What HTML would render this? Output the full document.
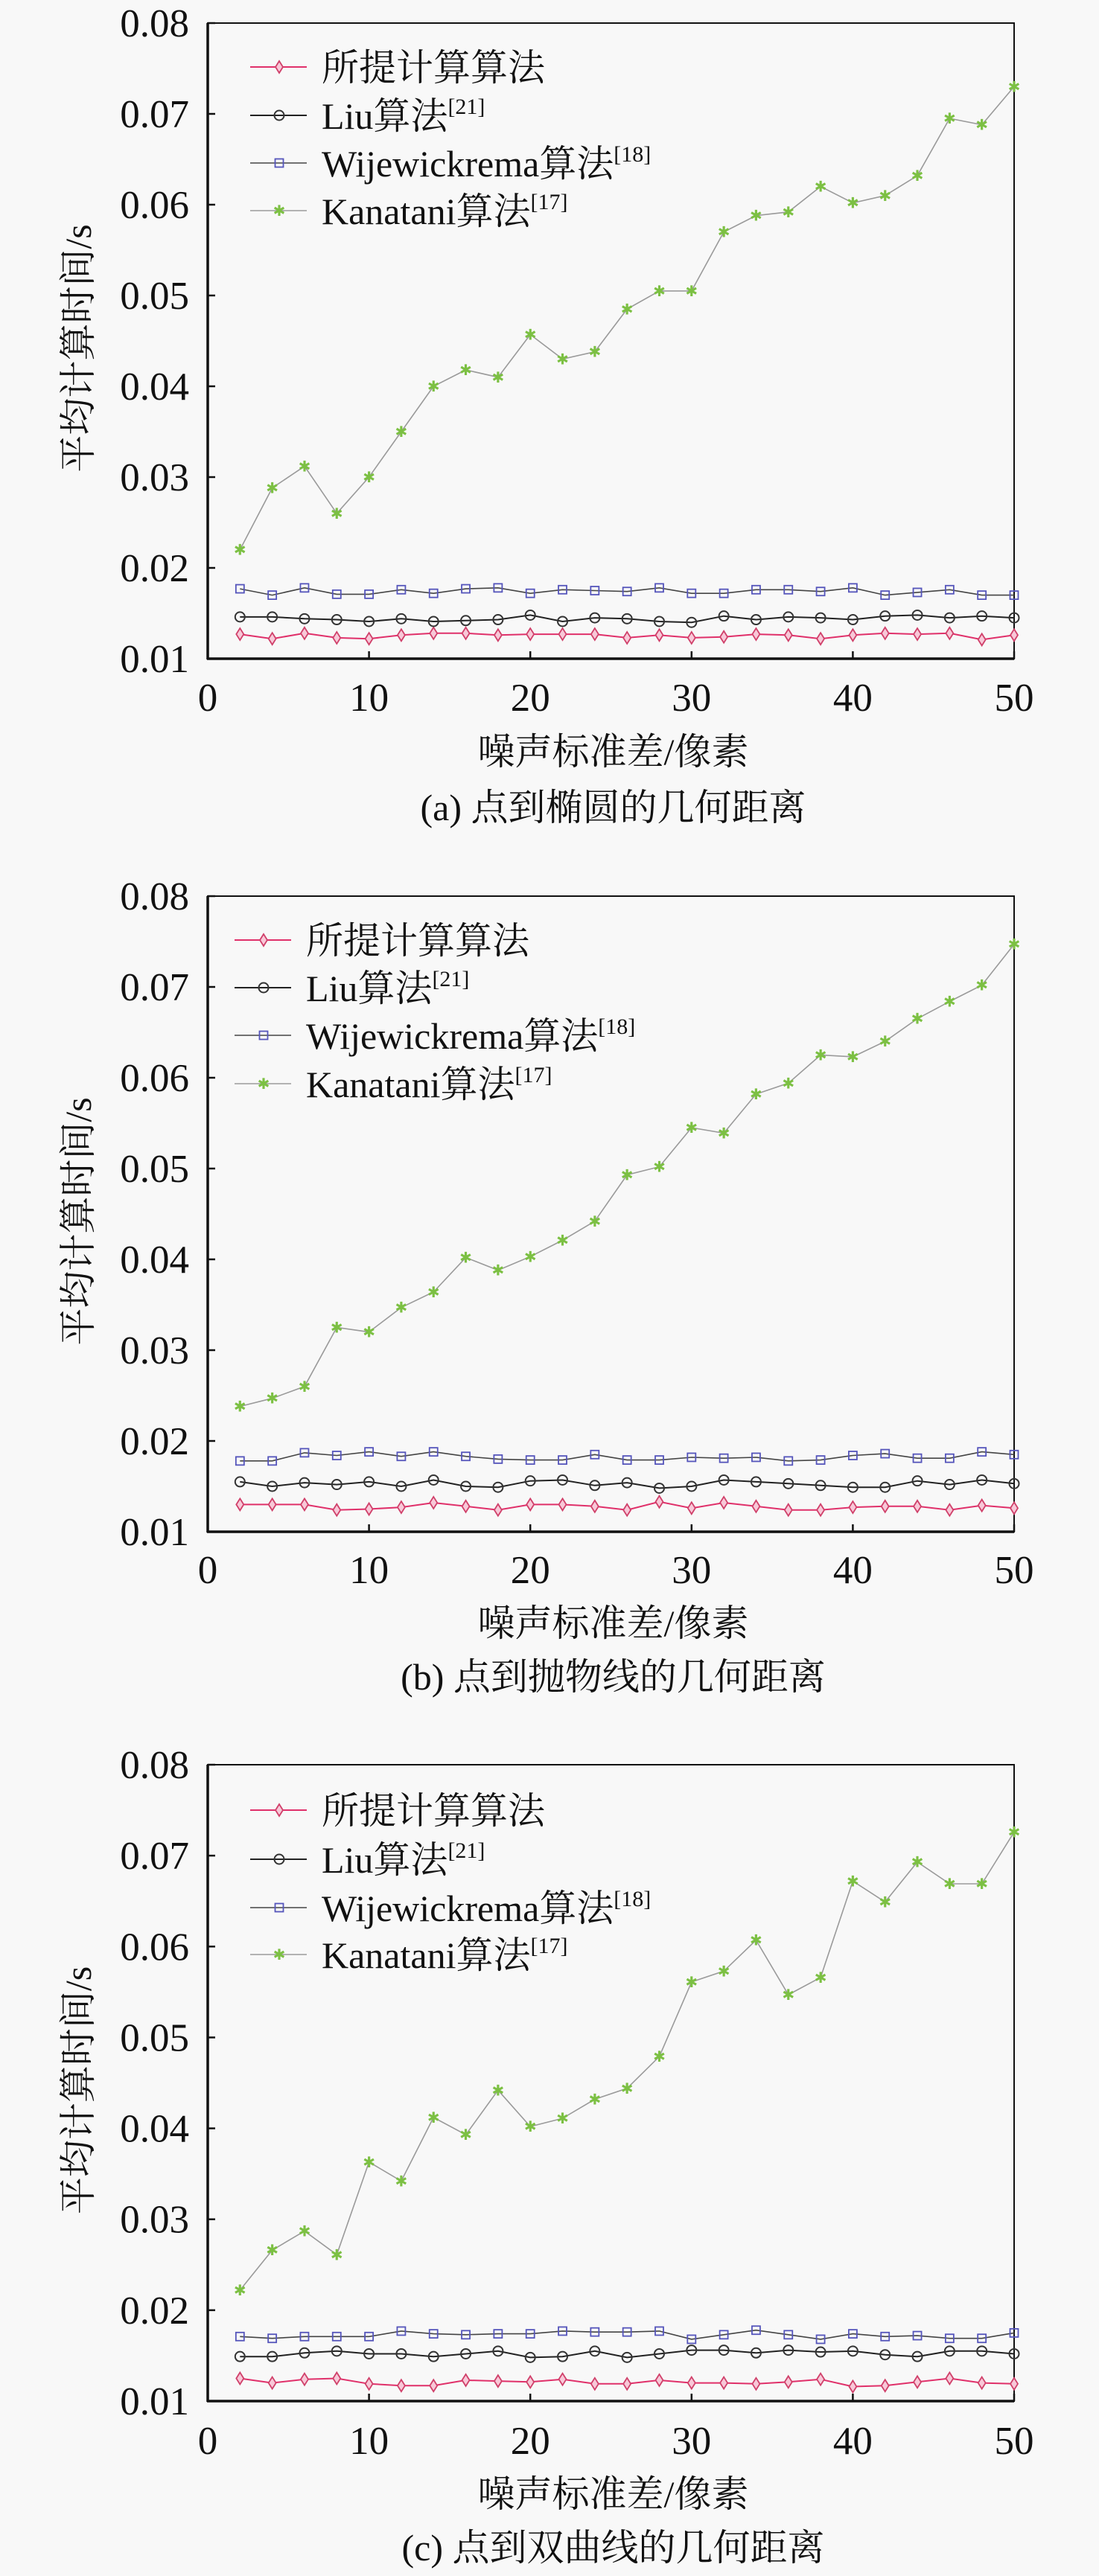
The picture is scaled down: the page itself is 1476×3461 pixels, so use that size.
<!DOCTYPE html>
<html><head><meta charset="utf-8">
<style>
html,body{margin:0;padding:0;background:#f8f8f8;}
svg{display:block;}
svg text{font-family:"Liberation Serif","Noto Serif CJK SC",serif;fill:#111;}
</style></head>
<body>
<svg id="fig" width="1476" height="3461" viewBox="0 0 1476 3461" xmlns="http://www.w3.org/2000/svg" font-family="'Liberation Serif','Noto Serif CJK SC',serif">
<rect x="0" y="0" width="1476" height="3461" fill="#f8f8f8"/>
</svg>
<script>
const xValues = [2,4,6,8,10,12,14,16,18,20,22,24,26,28,30,32,34,36,38,40,42,44,46,48,50];
const xTicks = [0,10,20,30,40,50];
const yTicks = [0.01,0.02,0.03,0.04,0.05,0.06,0.07,0.08];
const yTickLabels = ["0.01","0.02","0.03","0.04","0.05","0.06","0.07","0.08"];
const seriesNames = ["所提计算算法","Liu算法","Wijewickrema算法","Kanatani算法"];
const seriesRefs = ["","[21]","[18]","[17]"];
const captions = ["(a) 点到椭圆的几何距离","(b) 点到抛物线的几何距离","(c) 点到双曲线的几何距离"];

const propA = [0.0127,0.0122,0.0128,0.0123,0.0122,0.0126,0.0128,0.0128,0.0126,0.0127,0.0127,0.0127,0.0123,0.0126,0.0123,0.0124,0.0127,0.0126,0.0122,0.0126,0.0128,0.0127,0.0128,0.0121,0.0126];
const liuA = [0.0146,0.0146,0.0144,0.0143,0.0141,0.0144,0.0141,0.0142,0.0143,0.0148,0.0141,0.0145,0.0144,0.0141,0.0140,0.0147,0.0143,0.0146,0.0145,0.0143,0.0147,0.0148,0.0145,0.0147,0.0145];
const wijeA = [0.0177,0.0170,0.0178,0.0171,0.0171,0.0176,0.0172,0.0177,0.0178,0.0172,0.0176,0.0175,0.0174,0.0178,0.0172,0.0172,0.0176,0.0176,0.0174,0.0178,0.0170,0.0173,0.0176,0.0170,0.0170];
const kanaA = [0.0220,0.0288,0.0312,0.0260,0.0300,0.0350,0.0400,0.0418,0.0410,0.0457,0.0430,0.0438,0.0485,0.0505,0.0505,0.0570,0.0588,0.0592,0.0620,0.0602,0.0610,0.0632,0.0695,0.0688,0.0730];

const propB = [0.0130,0.0130,0.0130,0.0124,0.0125,0.0127,0.0132,0.0128,0.0124,0.0130,0.0130,0.0128,0.0124,0.0133,0.0126,0.0132,0.0128,0.0124,0.0124,0.0127,0.0128,0.0128,0.0124,0.0129,0.0126];
const liuB = [0.0155,0.0150,0.0154,0.0152,0.0155,0.0150,0.0157,0.0150,0.0149,0.0156,0.0157,0.0151,0.0154,0.0148,0.0150,0.0157,0.0155,0.0153,0.0151,0.0149,0.0149,0.0156,0.0152,0.0157,0.0153];
const wijeB = [0.0178,0.0178,0.0187,0.0184,0.0188,0.0183,0.0188,0.0183,0.0180,0.0179,0.0179,0.0185,0.0179,0.0179,0.0182,0.0181,0.0182,0.0178,0.0179,0.0184,0.0186,0.0181,0.0181,0.0188,0.0185];
const kanaB = [0.0238,0.0247,0.0260,0.0325,0.0320,0.0347,0.0364,0.0402,0.0388,0.0403,0.0421,0.0442,0.0493,0.0502,0.0545,0.0539,0.0582,0.0594,0.0625,0.0623,0.0640,0.0665,0.0684,0.0702,0.0747];

const propC = [0.0125,0.0120,0.0124,0.0125,0.0119,0.0117,0.0117,0.0123,0.0122,0.0121,0.0124,0.0119,0.0119,0.0123,0.0120,0.0120,0.0119,0.0121,0.0124,0.0116,0.0117,0.0121,0.0125,0.0120,0.0119];
const liuC = [0.0149,0.0149,0.0153,0.0155,0.0152,0.0152,0.0149,0.0152,0.0155,0.0148,0.0149,0.0155,0.0148,0.0152,0.0156,0.0156,0.0153,0.0156,0.0154,0.0155,0.0151,0.0149,0.0155,0.0155,0.0152];
const wijeC = [0.0171,0.0169,0.0171,0.0171,0.0171,0.0177,0.0174,0.0173,0.0174,0.0174,0.0177,0.0176,0.0176,0.0177,0.0168,0.0173,0.0178,0.0173,0.0168,0.0174,0.0171,0.0172,0.0169,0.0169,0.0175];
const kanaC = [0.0222,0.0266,0.0287,0.0261,0.0363,0.0342,0.0412,0.0393,0.0442,0.0402,0.0411,0.0432,0.0444,0.0479,0.0561,0.0573,0.0607,0.0547,0.0566,0.0672,0.0649,0.0693,0.0669,0.0669,0.0726];

const NS = "http://www.w3.org/2000/svg";
const FF = "Liberation Serif, Noto Serif CJK SC, serif";
const svg = document.getElementById('fig');
function mk(tag, attrs, parent){
  const e = document.createElementNS(NS, tag);
  for (const k in attrs) e.setAttribute(k, attrs[k]);
  if (tag === 'text') e.setAttribute('font-family', FF);
  (parent||svg).appendChild(e);
  return e;
}
const styles = [
  {line:"#e0306a", lw:2, marker:"diamond", mstroke:"#d0406a", mfill:"#f8c8d8"},
  {line:"#222", lw:2, marker:"circle", mstroke:"#333", mfill:"none"},
  {line:"#444", lw:1.6, marker:"square", mstroke:"#5555bb", mfill:"none"},
  {line:"#9a9a9a", lw:1.6, marker:"star", mstroke:"#66aa33", mfill:"#7cc043"}
];
function marker(g, type, x, y, st){
  let e;
  if (type==="diamond"){
    e = mk('polygon',{points:`${x},${y-8} ${x+5},${y} ${x},${y+8} ${x-5},${y}`,fill:st.mfill,stroke:st.mstroke,'stroke-width':1.8},g);
  } else if (type==="circle"){
    e = mk('circle',{cx:x,cy:y,r:6.5,fill:"none",stroke:st.mstroke,'stroke-width':2},g);
  } else if (type==="square"){
    e = mk('rect',{x:x-5.5,y:y-5.5,width:11,height:11,fill:"none",stroke:st.mstroke,'stroke-width':1.8},g);
  } else {
    e = mk('text',{x:x,y:y+7,'text-anchor':'middle','font-size':20,style:`fill:${st.mfill}`},g);
    e.textContent = "✱";
  }
  return e;
}
const panels = [
  {top:31, bottom:885, legX:336, legRows:[90,155,219,283], xtY:936, titleY:1009, capY:1084, data:[propA,liuA,wijeA,kanaA]},
  {top:1204, bottom:2058, legX:315, legRows:[1263,1327,1391,1456], xtY:2108, titleY:2180, capY:2252, data:[propB,liuB,wijeB,kanaB]},
  {top:2371, bottom:3226, legX:336, legRows:[2432,2498,2563,2626], xtY:3278, titleY:3350, capY:3422, data:[propC,liuC,wijeC,kanaC]}
];
const L = 279, R = 1362;
panels.forEach((p, pi) => {
  const xs = v => L + (v - 0) / 50 * (R - L);
  const ys = v => p.bottom - (v - 0.01) / 0.07 * (p.bottom - p.top);
  const g = mk('g',{});
  
  
  const fr = mk('rect',{x:L,y:p.top,width:R-L,height:p.bottom-p.top,fill:"none",stroke:"#111",'stroke-width':2},g);
  
  
  mk('line',{x1:L,y1:p.top,x2:L,y2:p.bottom+1,stroke:"#111",'stroke-width':3.5},g);
  mk('line',{x1:L-1,y1:p.bottom,x2:R,y2:p.bottom,stroke:"#111",'stroke-width':3.5},g);
  yTicks.forEach((t,i)=>{
    const y = ys(t);
    mk('line',{x1:L,y1:y,x2:L+10,y2:y,stroke:"#111",'stroke-width':2.5},g);
    const tx = mk('text',{x:254,y:y+18,'text-anchor':'end','font-size':53},g);
    
    
    tx.textContent = yTickLabels[i];
  });
  xTicks.forEach(t=>{
    const x = xs(t);
    mk('line',{x1:x,y1:p.bottom,x2:x,y2:p.bottom-10,stroke:"#111",'stroke-width':2.5},g);
    const tx = mk('text',{x:x,y:p.xtY+19,'text-anchor':'middle','font-size':53},g);
    
    
    tx.textContent = String(t);
  });
  const xt = mk('text',{x:(L+R)/2+3,y:p.titleY+18,'text-anchor':'middle','font-size':50},g);
  
  
  xt.textContent = "噪声标准差/像素";
  const yc = (p.top+p.bottom)/2 + 10;
  const yt = mk('text',{x:0,y:0,'text-anchor':'middle','font-size':50,transform:`translate(122,${yc}) rotate(-90)`},g);
  
  
  yt.textContent = "平均计算时间/s";
  const cp = mk('text',{x:(L+R)/2+3,y:p.capY+18,'text-anchor':'middle','font-size':50},g);
  
  
  cp.textContent = captions[pi];
  p.data.forEach((vals, si) => {
    const st = styles[si];
    const sg = mk('g',{},g);
    
    
    const pts = vals.map((v,i)=> xs(xValues[i]).toFixed(1)+","+ys(v).toFixed(1)).join(" ");
    mk('polyline',{points:pts,fill:"none",stroke:st.line,'stroke-width':st.lw},sg);
    vals.forEach((v,i)=>{
      const m = marker(sg, st.marker, xs(xValues[i]), ys(v), st);
      
      
    });
  });
  const lg = mk('g',{},g);
  
  
  seriesNames.forEach((nm, si) => {
    const st = styles[si];
    const y = p.legRows[si];
    const eg = mk('g',{},lg);
    
    
    mk('line',{x1:p.legX,y1:y,x2:p.legX+76,y2:y,stroke:st.line,'stroke-width':st.lw},eg);
    marker(eg, st.marker, p.legX+39, y, st);
    const t = mk('text',{x:p.legX+96,y:y+18,'font-size':50},eg);
    t.textContent = nm;
    if (seriesRefs[si]) {
      const ts = mk('tspan',{'font-size':30,dy:-20},t);
      ts.textContent = seriesRefs[si];
    }
  });
});
</script>
</body></html>
